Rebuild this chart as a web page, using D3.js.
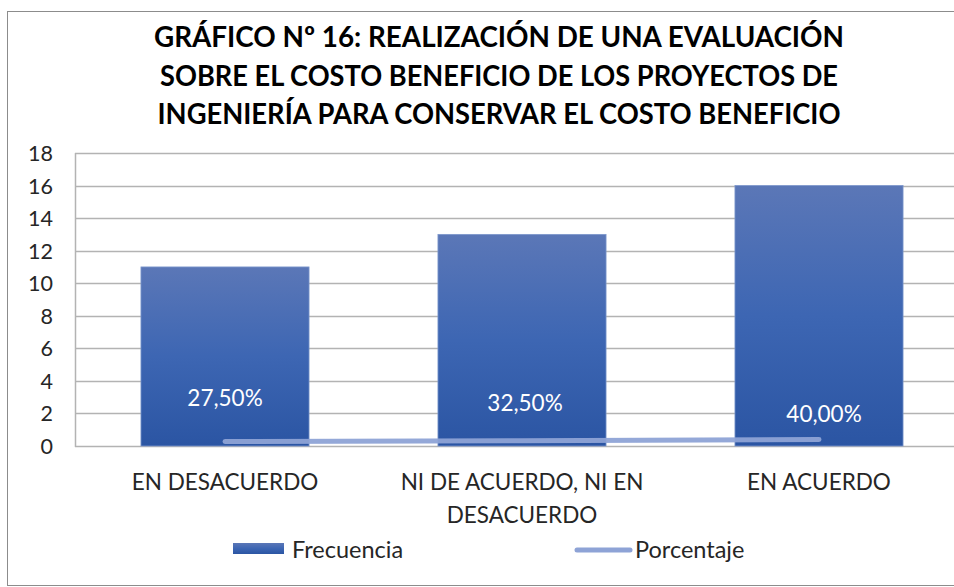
<!DOCTYPE html>
<html><head><meta charset="utf-8">
<script src="https://cdn.jsdelivr.net/npm/d3@7"></script>
<style>body{margin:0;background:#fff}svg{display:block}</style>
</head><body>
<script>
const titleLines = ["GRÁFICO Nº 16:  REALIZACIÓN DE UNA EVALUACIÓN","SOBRE EL COSTO BENEFICIO DE LOS PROYECTOS DE","INGENIERÍA PARA CONSERVAR EL COSTO BENEFICIO"];
const categories = ["EN DESACUERDO","NI DE ACUERDO, NI EN DESACUERDO","EN ACUERDO"];
const categoryLines = [["EN DESACUERDO"],["NI DE ACUERDO, NI EN","DESACUERDO"],["EN ACUERDO"]];
const frecuencia = [11, 13, 16];
const porcentaje = [0.275, 0.325, 0.40];
const porcentajeLabels = ["27,50%","32,50%","40,00%"];
const yTicks = [0,2,4,6,8,10,12,14,16,18];
const seriesNames = ["Frecuencia","Porcentaje"];

const W = 954, H = 587;
const font = "Lato, 'Open Sans', sans-serif";
const svg = d3.select("body").append("svg").attr("width", W).attr("height", H);

const defs = svg.append("defs");
const g1 = defs.append("linearGradient").attr("id","barGrad").attr("x1",0).attr("y1",0).attr("x2",0).attr("y2",1);
g1.append("stop").attr("offset","0%").attr("stop-color","#5b77b7");
g1.append("stop").attr("offset","50%").attr("stop-color","#3d66b3");
g1.append("stop").attr("offset","100%").attr("stop-color","#2b55a3");

// chart border
svg.append("rect").attr("x",7.5).attr("y",11.5).attr("width",W).attr("height",574)
  .attr("fill","none").attr("stroke","#8c8c8c").attr("stroke-width",1);

// title
const titleWidths = [690, 678, 683];
svg.append("g").selectAll("text").data(titleLines).join("text")
  .attr("x", 499).attr("y",(d,i)=>47 + i*38.5)
  .attr("text-anchor","middle")
  .attr("font-family", font).attr("font-weight","bold").attr("font-size",29)
  .attr("fill","#000")
  .attr("textLength",(d,i)=>titleWidths[i]).attr("lengthAdjust","spacingAndGlyphs")
  .text(d=>d);

const x = d3.scaleBand().domain(categories).range([76.5, 967.5]).paddingInner(0.434).paddingOuter(0.217);
const y = d3.scaleLinear().domain([0,18]).range([446, 153]);

// gridlines
svg.append("g").selectAll("line").data(yTicks).join("line")
  .attr("x1",75).attr("x2",W).attr("y1",d=>Math.round(y(d))+0.5).attr("y2",d=>Math.round(y(d))+0.5)
  .attr("stroke","#b3b3b3").attr("stroke-width",1.5);
svg.append("line").attr("x1",75.5).attr("x2",75.5).attr("y1",y(18)).attr("y2",y(0)+1)
  .attr("stroke","#b3b3b3").attr("stroke-width",1.5);

// y axis labels
const yAxis = d3.axisLeft(y).tickValues(yTicks).tickSize(0).tickPadding(0).tickFormat(d3.format("d"));
const ya = svg.append("g").attr("transform","translate(53,0)").call(yAxis);
ya.select(".domain").remove();
ya.selectAll("text").attr("font-family",font).attr("font-size",21.5).attr("fill","#262626").attr("dy","0.35em");

// bars
svg.append("g").selectAll("rect").data(frecuencia).join("rect")
  .attr("x",(d,i)=>x(categories[i])).attr("width",x.bandwidth())
  .attr("y",d=>y(d)).attr("height",d=>y(0)-y(d))
  .attr("fill","url(#barGrad)").attr("stroke","#7d97cc").attr("stroke-width",0.8);

// line
const cx = i => x(categories[i]) + x.bandwidth()/2;
const line = d3.line().x((d,i)=>cx(i)).y(d=>y(d));
svg.append("path").datum(porcentaje).attr("d",line)
  .attr("fill","none").attr("stroke","#8ea3d6").attr("stroke-opacity",0.95)
  .attr("stroke-width",5).attr("stroke-linecap","round").attr("stroke-linejoin","round");

// data labels
const labelDy = [-44, -38, -26];
const labelDx = [0, 3, 5];
svg.append("g").selectAll("text").data(porcentaje).join("text")
  .attr("x",(d,i)=>cx(i)+labelDx[i]).attr("y",(d,i)=>y(d)+labelDy[i])
  .attr("text-anchor","middle").attr("dominant-baseline","central")
  .attr("font-family",font).attr("font-size",22.5).attr("fill","#ffffff")
  .text((d,i)=>porcentajeLabels[i]);

// category labels
const cg = svg.append("g");
categoryLines.forEach((lines,i)=>{
  lines.forEach((t,j)=>{
    cg.append("text").attr("x",cx(i)).attr("y",481 + j*33)
      .attr("text-anchor","middle").attr("dominant-baseline","central")
      .attr("font-family",font).attr("font-size",22.5).attr("fill","#262626").text(t);
  });
});

// legend
const lg = svg.append("g");
lg.append("rect").attr("x",233).attr("y",543).attr("width",51).attr("height",11).attr("fill","url(#barGrad)");
lg.append("text").attr("x",292).attr("y",549).attr("dominant-baseline","central")
  .attr("font-family",font).attr("font-size",23.5).attr("fill","#262626").text(seriesNames[0]);
lg.append("line").attr("x1",577).attr("x2",630).attr("y1",550).attr("y2",550)
  .attr("stroke","#8ea3d6").attr("stroke-width",5).attr("stroke-linecap","round");
lg.append("text").attr("x",635).attr("y",549).attr("dominant-baseline","central")
  .attr("font-family",font).attr("font-size",23.5).attr("fill","#262626").text(seriesNames[1]);
</script>
</body></html>
